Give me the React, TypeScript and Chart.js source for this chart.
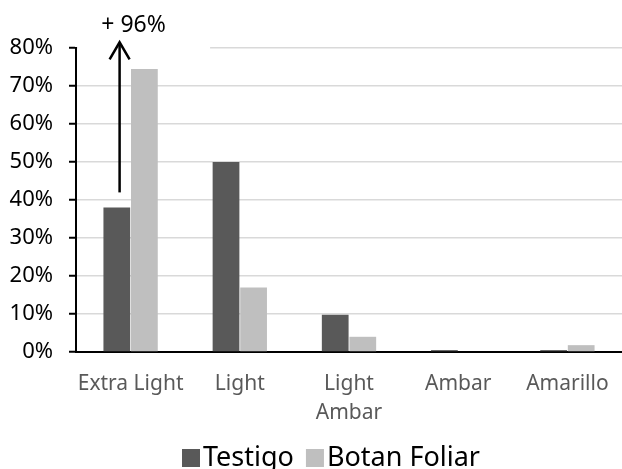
import React, { useEffect, useRef } from "react";
import { Chart, registerables } from "chart.js";

Chart.register(...registerables);

const categories: (string | string[])[] = ["Extra Light", "Light", ["Light", "Ambar"], "Ambar", "Amarillo"];
const seriesNames = ["Testigo", "Botan Foliar"];
const seriesColors = ["#595959", "#bfbfbf"];
const testigo = [38, 50, 9.8, 0.5, 0.5];
const botanFoliar = [74.5, 17, 4, 0, 1.8];
const yTicks = [0, 10, 20, 30, 40, 50, 60, 70, 80];
const annotationText = "+ 96%";

const FONT = "'Noto Sans', 'Open Sans', sans-serif";

const annotationPlugin = {
  id: "annot",
  beforeDatasetsDraw(chart: any) {
    const { ctx, chartArea, scales } = chart;
    const x = scales.x;
    const y = scales.y;
    const cx = x.getPixelForValue(0);
    ctx.save();
    ctx.fillStyle = "#ffffff";
    const top = y.getPixelForValue(80);
    ctx.fillRect(chartArea.left + 1.5, top - 4, cx + 78 - chartArea.left, 8);
    ctx.restore();
  },
  afterDatasetsDraw(chart: any) {
    const { ctx, scales } = chart;
    const x = scales.x;
    const y = scales.y;
    const ax = x.getPixelForValue(0) - 11;
    const yBottom = y.getPixelForValue(42);
    const yTop = y.getPixelForValue(81.5);
    ctx.save();
    ctx.strokeStyle = "#000000";
    ctx.lineWidth = 2.5;
    ctx.beginPath();
    ctx.moveTo(ax, yBottom);
    ctx.lineTo(ax, yTop + 1);
    ctx.stroke();
    ctx.beginPath();
    ctx.moveTo(ax - 10, yTop + 17);
    ctx.lineTo(ax, yTop);
    ctx.lineTo(ax + 10, yTop + 17);
    ctx.stroke();
    ctx.fillStyle = "#000000";
    ctx.font = `23px ${FONT}`;
    ctx.textAlign = "center";
    ctx.textBaseline = "middle";
    ctx.fillText(annotationText, ax + 14, yTop - 17);
    ctx.restore();
  },
  afterDraw(chart: any) {
    // legend
    const { ctx, chartArea } = chart;
    const fontSize = 27;
    const box = 18;
    const gapBoxText = 3;
    const gapItems = 12;
    ctx.save();
    ctx.font = `${fontSize}px ${FONT}`;
    const widths = seriesNames.map((n) => ctx.measureText(n).width);
    const total = widths.reduce((a, w) => a + box + gapBoxText + w, 0) + gapItems * (seriesNames.length - 1);
    let xPos = (chart.width - total) / 2 + 20;
    const cy = chartArea.bottom + 106;
    ctx.textBaseline = "middle";
    ctx.textAlign = "left";
    seriesNames.forEach((n, i) => {
      ctx.fillStyle = seriesColors[i];
      ctx.fillRect(xPos, cy - box / 2, box, box);
      xPos += box + gapBoxText;
      ctx.fillStyle = "#000000";
      ctx.fillText(n, xPos, cy);
      xPos += widths[i] + gapItems;
    });
    ctx.restore();
  },
};

export default function App() {
  const ref = useRef<HTMLCanvasElement | null>(null);
  useEffect(() => {
    document.body.style.margin = "0";
    const chart = new Chart(ref.current as HTMLCanvasElement, {
      type: "bar",
      data: {
        labels: categories as any,
        datasets: [
          {
            label: seriesNames[0],
            data: testigo,
            backgroundColor: seriesColors[0],
            barPercentage: 0.97,
            categoryPercentage: 0.505,
          },
          {
            label: seriesNames[1],
            data: botanFoliar,
            backgroundColor: seriesColors[1],
            barPercentage: 0.97,
            categoryPercentage: 0.505,
          },
        ],
      },
      options: {
        responsive: false,
        animation: false,
        layout: { padding: { top: 48, right: 0, bottom: 0, left: 0 } },
        plugins: {
          legend: { display: false },
          tooltip: { enabled: false },
        },
        scales: {
          x: {
            grid: { display: false, drawTicks: false },
            border: { display: true, color: "#000000", width: 2 },
            ticks: {
              color: "#595959",
              padding: 18,
              maxRotation: 0,
              autoSkip: false,
              font: { family: FONT, size: 21, lineHeight: 1.35 },
            },
            afterFit(scale: any) {
              scale.height = 117;
              scale.paddingLeft = 0;
              scale.paddingRight = 0;
            },
          },
          y: {
            min: 0,
            max: 80,
            afterBuildTicks(scale: any) {
              scale.ticks = yTicks.map((v) => ({ value: v }));
            },
            grid: {
              color: "#d9d9d9",
              lineWidth: 1.5,
              drawTicks: true,
              tickLength: 7,
              tickColor: "#000000",
              tickWidth: 2,
            },
            border: { display: true, color: "#000000", width: 2 },
            ticks: {
              color: "#000000",
              padding: 16,
              font: { family: FONT, size: 22 },
              callback: (v: any) => `${v}%`,
            },
            afterFit(scale: any) {
              scale.width = 76;
            },
          },
        },
      },
      plugins: [annotationPlugin],
    } as any);
    return () => chart.destroy();
  }, []);
  return (
    <div style={{ position: "absolute", left: 0, top: 0, width: 622, height: 469 }}>
      <canvas ref={ref} width={622} height={469} style={{ width: 622, height: 469 }} />
    </div>
  );
}
